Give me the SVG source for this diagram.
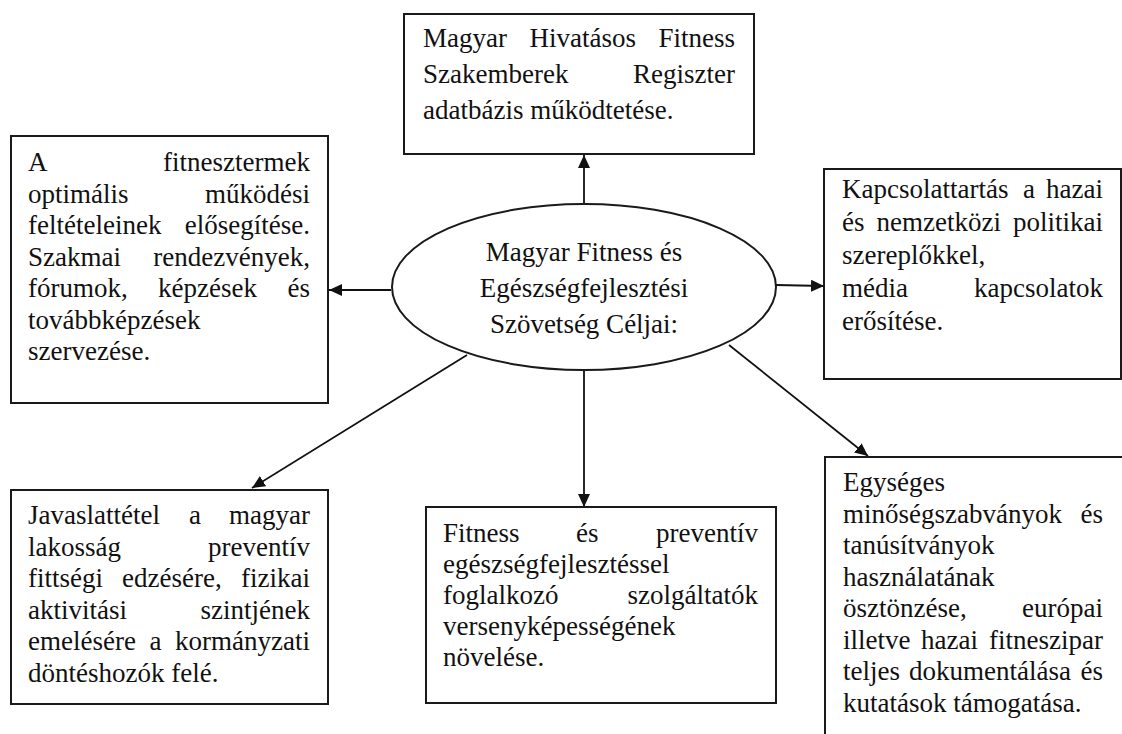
<svg xmlns="http://www.w3.org/2000/svg" width="1122" height="734" viewBox="0 0 1122 734">
<style>
  .box { fill: #ffffff; stroke: #1a1a1a; stroke-width: 2; }
  .t { font-family: "Liberation Serif", "Times New Roman", serif; font-size: 27px; fill: #111111; }
  .e { text-anchor: end; }
  .c { text-anchor: middle; }
  .conn { stroke: #111111; stroke-width: 1.8; fill: none; marker-end: url(#arrow); }
</style>
<defs>
  <marker id="arrow" markerUnits="userSpaceOnUse" markerWidth="14" markerHeight="12" refX="13" refY="6" orient="auto">
    <path d="M0,0 L13,6 L0,12 z" fill="#111111"/>
  </marker>
</defs>
<rect width="1122" height="734" fill="#ffffff"/>

<g id="connectors">
  <line class="conn" x1="584" y1="204" x2="584" y2="155"/>
  <line class="conn" x1="391" y1="290" x2="329" y2="290"/>
  <line class="conn" x1="776" y1="285" x2="824" y2="286"/>
  <line class="conn" x1="584" y1="370" x2="584" y2="507"/>
  <line class="conn" x1="467" y1="355" x2="252" y2="488"/>
  <line class="conn" x1="729" y1="345" x2="868" y2="456"/>
</g>

<g id="center">
  <ellipse cx="584" cy="287" rx="192" ry="83" fill="#ffffff" stroke="#1a1a1a" stroke-width="2"/>
  <text class="t c" x="584" y="261">Magyar Fitness és</text>
  <text class="t c" x="584" y="297">Egészségfejlesztési</text>
  <text class="t c" x="584" y="333">Szövetség Céljai:</text>
</g>

<g id="node-top">
  <rect class="box" x="404" y="14" width="350" height="140"/>
  <text class="t" x="423" y="47">Magyar</text>
  <text class="t" x="529.5" y="47">Hivatásos</text>
  <text class="t e" x="735" y="47">Fitness</text>
  <text class="t" x="423" y="83">Szakemberek</text>
  <text class="t e" x="735" y="83">Regiszter</text>
  <text class="t" x="423" y="119">adatbázis működtetése.</text>
</g>

<g id="node-left">
  <rect class="box" x="11" y="136" width="317" height="267"/>
  <text class="t" x="28" y="171">A</text>
  <text class="t e" x="310" y="171">fitnesztermek</text>
  <text class="t" x="28" y="202.5">optimális</text>
  <text class="t e" x="310" y="202.5">működési</text>
  <text class="t" x="28" y="234">feltételeinek</text>
  <text class="t e" x="310" y="234">elősegítése.</text>
  <text class="t" x="28" y="265.5">Szakmai</text>
  <text class="t e" x="310" y="265.5">rendezvények,</text>
  <text class="t" x="28" y="297">fórumok,</text>
  <text class="t" x="158" y="297">képzések</text>
  <text class="t e" x="310" y="297">és</text>
  <text class="t" x="28" y="328.5">továbbképzések</text>
  <text class="t" x="28" y="360">szervezése.</text>
</g>

<g id="node-right">
  <rect class="box" x="824" y="169" width="297" height="210"/>
  <text class="t" x="842" y="198">Kapcsolattartás</text>
  <text class="t" x="1023" y="198">a</text>
  <text class="t e" x="1103" y="198">hazai</text>
  <text class="t" x="842" y="231">és</text>
  <text class="t" x="876.5" y="231">nemzetközi</text>
  <text class="t e" x="1103" y="231">politikai</text>
  <text class="t" x="842" y="264">szereplőkkel,</text>
  <text class="t" x="842" y="297">média</text>
  <text class="t e" x="1103" y="297">kapcsolatok</text>
  <text class="t" x="842" y="330">erősítése.</text>
</g>

<g id="node-bottom-left">
  <rect class="box" x="11" y="490" width="317" height="214"/>
  <text class="t" x="28" y="524">Javaslattétel</text>
  <text class="t" x="189" y="524">a</text>
  <text class="t e" x="310" y="524">magyar</text>
  <text class="t" x="28" y="555.5">lakosság</text>
  <text class="t e" x="310" y="555.5">preventív</text>
  <text class="t" x="28" y="587">fittségi</text>
  <text class="t" x="122" y="587">edzésére,</text>
  <text class="t e" x="310" y="587">fizikai</text>
  <text class="t" x="28" y="618.5">aktivitási</text>
  <text class="t e" x="310" y="618.5">szintjének</text>
  <text class="t" x="28" y="650">emelésére</text>
  <text class="t" x="149.5" y="650">a</text>
  <text class="t e" x="310" y="650">kormányzati</text>
  <text class="t" x="28" y="681.5">döntéshozók felé.</text>
</g>

<g id="node-bottom-middle">
  <rect class="box" x="426" y="507" width="350" height="196"/>
  <text class="t" x="443" y="542">Fitness</text>
  <text class="t" x="576" y="542">és</text>
  <text class="t e" x="758" y="542">preventív</text>
  <text class="t" x="443" y="573">egészségfejlesztéssel</text>
  <text class="t" x="443" y="604">foglalkozó</text>
  <text class="t e" x="758" y="604">szolgáltatók</text>
  <text class="t" x="443" y="635">versenyképességének</text>
  <text class="t" x="443" y="666">növelése.</text>
</g>

<g id="node-bottom-right">
  <rect class="box" x="825" y="457" width="320" height="300"/>
  <text class="t" x="843" y="491">Egységes</text>
  <text class="t" x="843" y="522.5">minőségszabványok</text>
  <text class="t e" x="1103" y="522.5">és</text>
  <text class="t" x="843" y="554">tanúsítványok</text>
  <text class="t" x="843" y="585.5">használatának</text>
  <text class="t" x="843" y="617">ösztönzése,</text>
  <text class="t e" x="1103" y="617">európai</text>
  <text class="t" x="843" y="648.5">illetve</text>
  <text class="t" x="921" y="648.5">hazai</text>
  <text class="t e" x="1103" y="648.5">fitneszipar</text>
  <text class="t" x="843" y="680">teljes</text>
  <text class="t" x="909" y="680">dokumentálása</text>
  <text class="t e" x="1103" y="680">és</text>
  <text class="t" x="843" y="711.5">kutatások támogatása.</text>
</g>
</svg>
